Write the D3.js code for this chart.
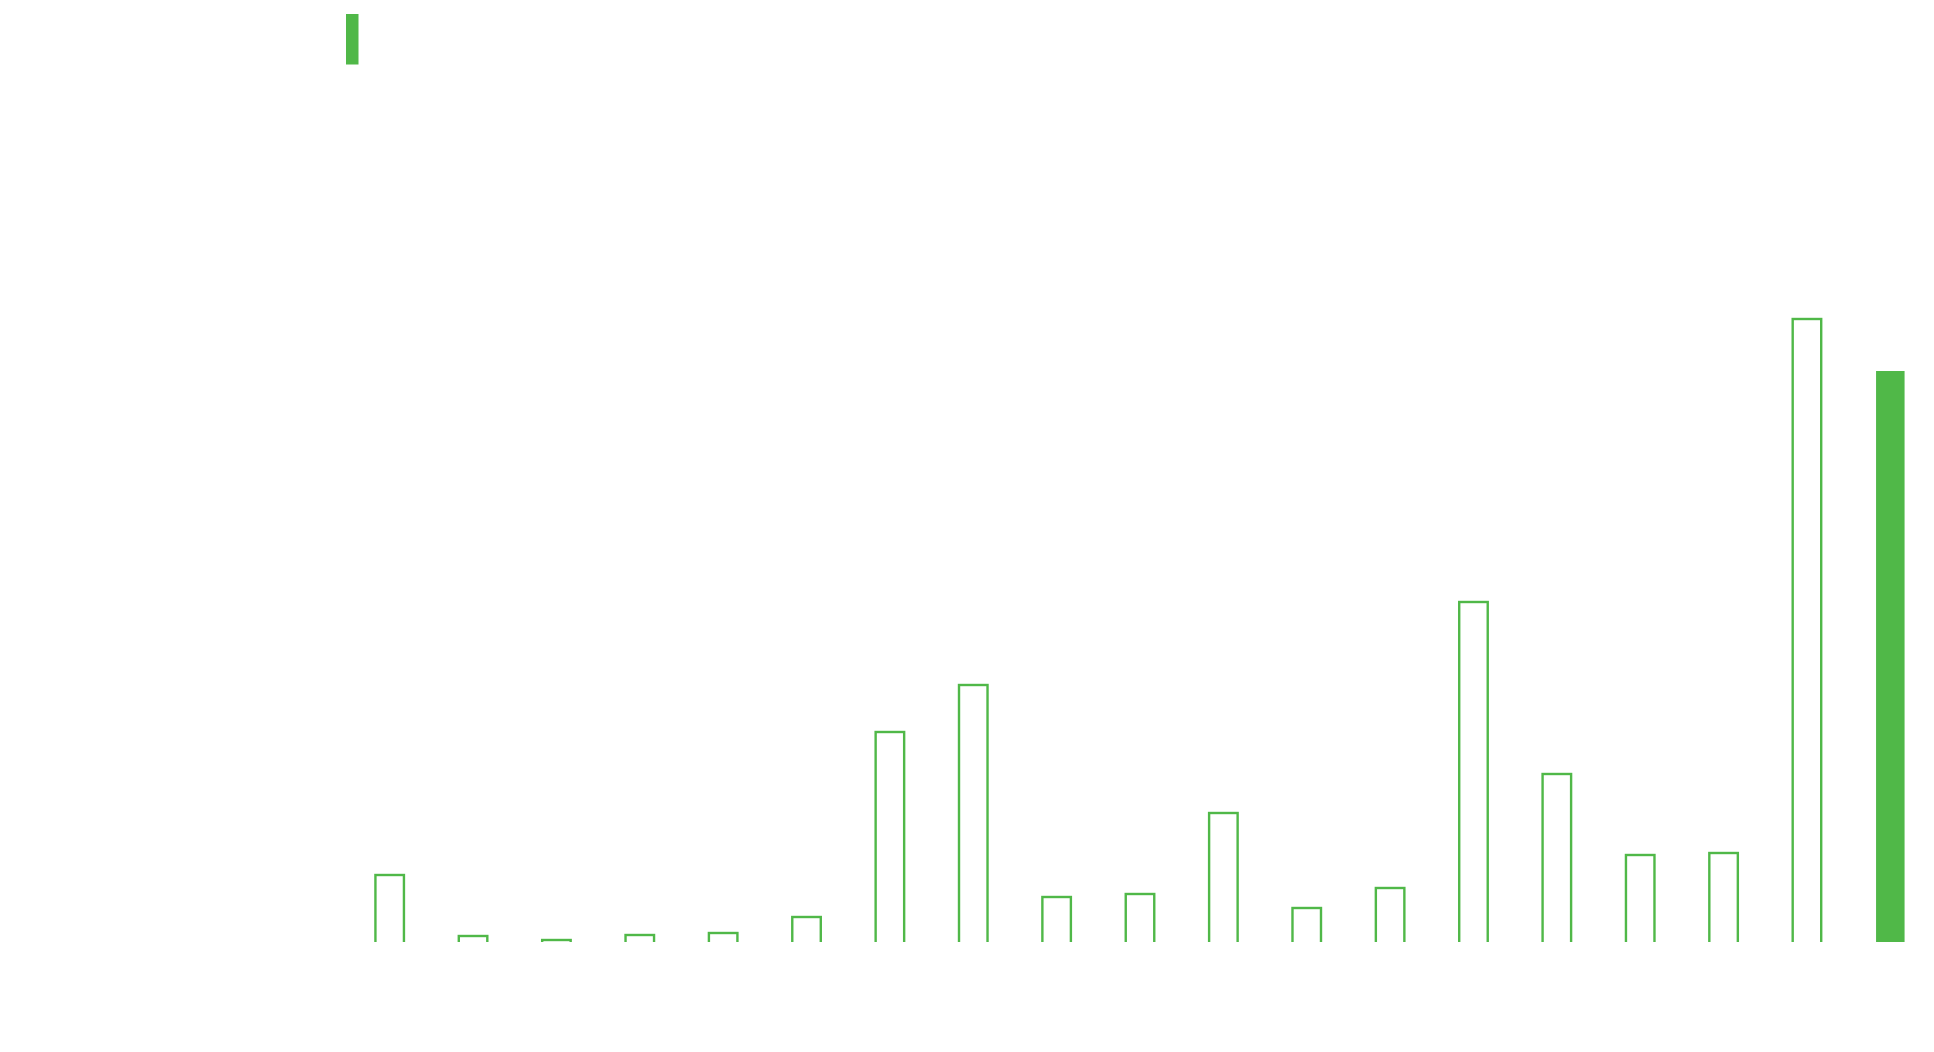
<!DOCTYPE html>
<html>
<head>
<meta charset="utf-8">
<script src="https://cdn.jsdelivr.net/npm/d3@7"></script>
<style>
  html, body { margin: 0; padding: 0; background: #fff; }
  svg { display: block; }
</style>
</head>
<body>
<div id="chart-area"></div>
<script>
// categories (no labels shown in the picture)
const categories = ['c1', 'c2', 'c3', 'c4', 'c5', 'c6', 'c7', 'c8', 'c9', 'c10',
  'c11', 'c12', 'c13', 'c14', 'c15', 'c16', 'c17', 'c18', 'c19'];
// bar values
const values = [67, 6, 2, 7, 9, 25, 210, 257, 45, 48, 129, 34, 54, 340, 168, 87, 89, 623, 571];
// which bars are drawn solid (the rest are outlines only)
const solid = ['c19'];

const green = '#50b848';
const width = 1934;
const height = 1052;
const plot = { left: 348, right: 1932, top: 0, bottom: 942 };

const svg = d3.select('#chart-area')
  .append('svg')
  .attr('width', width)
  .attr('height', height);

const x = d3.scaleBand()
  .domain(categories)
  .range([plot.left, plot.right])
  .paddingInner(0.658)
  .paddingOuter(0.329);

const y = d3.scaleLinear()
  .domain([0, 700])
  .range([plot.bottom, plot.bottom - 700]);

// clip so the outline bars stay open at the baseline
svg.append('clipPath')
  .attr('id', 'plot-clip')
  .append('rect')
  .attr('x', 0)
  .attr('y', 0)
  .attr('width', width)
  .attr('height', plot.bottom);

const data = categories.map((c, i) => ({ cat: c, value: values[i] }));

const g = svg.append('g').attr('clip-path', 'url(#plot-clip)');

g.selectAll('rect.bar')
  .data(data)
  .enter()
  .append('rect')
  .attr('class', 'bar')
  .attr('x', (d) => x(d.cat))
  .attr('y', (d) => y(d.value))
  .attr('width', x.bandwidth())
  .attr('height', (d) => y(0) - y(d.value) + 3)
  .attr('fill', (d) => solid.includes(d.cat) ? green : '#fff')
  .attr('stroke', (d) => solid.includes(d.cat) ? 'none' : green)
  .attr('stroke-width', 2.4);

// legend swatch
svg.append('rect')
  .attr('x', 346)
  .attr('y', 14)
  .attr('width', 12.5)
  .attr('height', 50.5)
  .attr('fill', green);
</script>
</body>
</html>
